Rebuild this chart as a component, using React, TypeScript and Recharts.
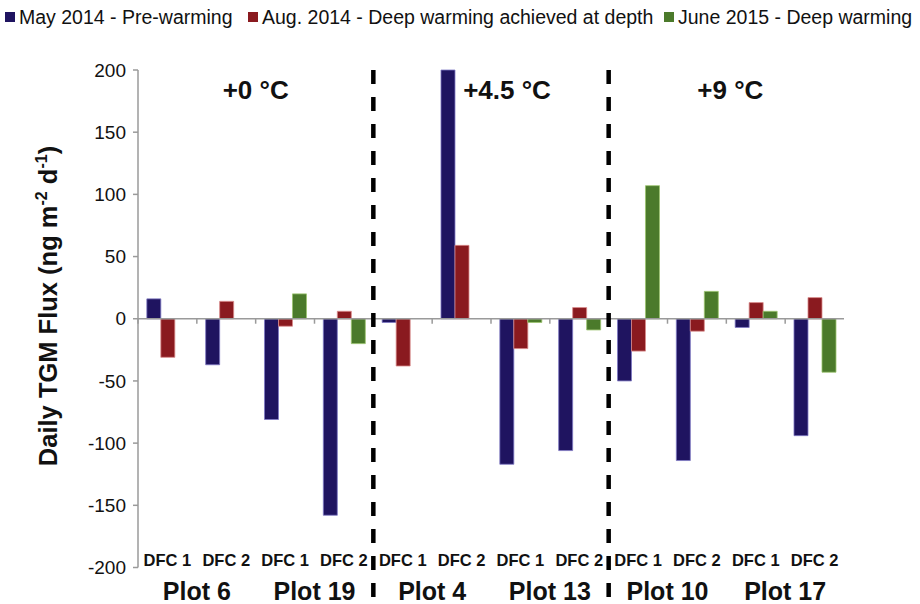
import React from 'react';
import { BarChart, Bar, XAxis, YAxis, ReferenceLine, Legend, Label } from 'recharts';

// Plots and the two dynamic flux chambers in each
const plots = ['Plot 6', 'Plot 19', 'Plot 4', 'Plot 13', 'Plot 10', 'Plot 17'];
const chambers = ['DFC 1', 'DFC 2'];
// Warming treatment shared by each pair of plots
const treatments = ['+0 °C', '+4.5 °C', '+9 °C'];

// Daily TGM flux (ng m-2 d-1), one value per chamber in plot order
const may2014 = [16, -37, -81, -158, -3, 200, -117, -106, -50, -114, -7, -94];
const aug2014 = [-31, 14, -6, 6, -38, 59, -24, 9, -26, -10, 13, 17];
const june2015 = [null, null, 20, -20, null, null, -3, -9, 107, 22, 6, -43];

const seriesNames = [
  'May 2014 - Pre-warming',
  'Aug. 2014 - Deep warming achieved at depth',
  'June 2015 - Deep warming',
];

const FONT = '"Liberation Sans", Arial, Helvetica, sans-serif';
const COLORS = ['#1f1460', '#8a1a1f', '#4b7a2b'];
const EDGES = ['#7f79c4', '#d98a8a', '#9cc46e'];
const LEGEND_LEFT = [5, 248, 664];
const TREATMENT_DX = [0, 16, 4];

const rows = plots.flatMap((plot, p) =>
  chambers.map((chamber, c) => {
    const i = p * 2 + c;
    return {
      key: `${plot} ${chamber}`,
      plot,
      chamber,
      treatment: treatments[Math.floor(p / 2)],
      may: may2014[i],
      aug: aug2014[i],
      june: june2015[i],
    };
  })
);

const DfcTick = (props: any) => {
  const { x, y, payload } = props;
  const row = rows.find((r) => r.key === payload.value);
  return (
    <text x={x} y={y - 1.5} textAnchor="middle" fontFamily={FONT} fontSize={16.5} fontWeight="bold" fill="#111">
      {row ? row.chamber : ''}
    </text>
  );
};

const PlotTick = (props: any) => {
  const { x, y, payload } = props;
  return (
    <text x={x} y={y + 22.5} textAnchor="middle" fontFamily={FONT} fontSize={25} fontWeight="bold" fill="#111">
      {payload.value}
    </text>
  );
};

const TreatmentTick = (props: any) => {
  const { x, y, payload, index } = props;
  const i = treatments.indexOf(payload.value);
  return (
    <text
      x={x + (TREATMENT_DX[i >= 0 ? i : index] || 0)}
      y={y + 29.3}
      textAnchor="middle"
      fontFamily={FONT}
      fontSize={26}
      fontWeight="bold"
      fill="#111"
    >
      {payload.value}
    </text>
  );
};

const YTitle = () => (
  <text
    transform="translate(57,306) rotate(-90)"
    textAnchor="middle"
    fontFamily={FONT}
    fontSize={25.5}
    fontWeight="bold"
    fill="#111"
  >
    Daily TGM Flux (ng m
    <tspan dy={-10} fontSize={16}>-2</tspan>
    <tspan dy={10}> d</tspan>
    <tspan dy={-10} fontSize={16}>-1</tspan>
    <tspan dy={10}>)</tspan>
  </text>
);

const LegendRow = () => (
  <div style={{ position: 'relative', width: 920, height: 30, fontFamily: FONT, fontSize: 19.5, color: '#111' }}>
    {seriesNames.map((name, i) => (
      <div
        key={name}
        style={{
          position: 'absolute',
          left: LEGEND_LEFT[i],
          top: 6,
          display: 'flex',
          alignItems: 'center',
          whiteSpace: 'nowrap',
          lineHeight: '22px',
        }}
      >
        <span style={{ display: 'inline-block', width: 10, height: 10, background: COLORS[i], marginRight: 4 }} />
        <span>{name}</span>
      </div>
    ))}
  </div>
);

export default function App() {
  const lastKey = rows[rows.length - 1].key;
  return (
    <div style={{ position: 'absolute', left: 0, top: 0, width: 920, height: 604, background: '#fff' }}>
      <BarChart
        width={920}
        height={604}
        data={rows}
        margin={{ top: 39, right: 76, bottom: 0, left: 0 }}
        barCategoryGap="15%"
        barGap={0}
      >
        <Legend
          verticalAlign="top"
          align="left"
          height={30}
          wrapperStyle={{ top: 0, left: 0, width: 920 }}
          content={LegendRow}
        />
        <XAxis
          xAxisId="dfc"
          dataKey="key"
          type="category"
          height={10}
          interval={0}
          axisLine={false}
          tickLine={false}
          tickSize={0}
          tickMargin={0}
          tick={DfcTick}
        />
        <XAxis
          xAxisId="plot"
          dataKey="plot"
          type="category"
          allowDuplicatedCategory={false}
          height={26.5}
          interval={0}
          axisLine={false}
          tickLine={false}
          tickSize={0}
          tickMargin={0}
          tick={PlotTick}
        />
        <XAxis
          xAxisId="treatment"
          dataKey="treatment"
          type="category"
          orientation="top"
          allowDuplicatedCategory={false}
          height={1}
          interval={0}
          axisLine={false}
          tickLine={false}
          tickSize={0}
          tickMargin={0}
          tick={TreatmentTick}
        />
        <YAxis
          domain={[-200, 200]}
          ticks={[-200, -150, -100, -50, 0, 50, 100, 150, 200]}
          interval={0}
          width={138}
          axisLine={{ stroke: '#9a9a9a', strokeWidth: 1.5 }}
          tickLine={{ stroke: '#9a9a9a', strokeWidth: 1.5 }}
          tickSize={5}
          tickMargin={7}
          tick={{ fontSize: 19, fill: '#111', fontFamily: FONT }}
        >
          <Label content={YTitle} />
        </YAxis>
        <Bar xAxisId="dfc" dataKey="may" name={seriesNames[0]} fill={COLORS[0]} stroke={EDGES[0]} strokeWidth={0.8} isAnimationActive={false} />
        <Bar xAxisId="dfc" dataKey="aug" name={seriesNames[1]} fill={COLORS[1]} stroke={EDGES[1]} strokeWidth={0.8} isAnimationActive={false} />
        <Bar xAxisId="dfc" dataKey="june" name={seriesNames[2]} fill={COLORS[2]} stroke={EDGES[2]} strokeWidth={0.8} isAnimationActive={false} />
        <ReferenceLine xAxisId="dfc" y={0} stroke="#9a9a9a" strokeWidth={1.5} />
        {rows.map((r) => (
          <ReferenceLine
            key={`tick-${r.key}`}
            xAxisId="dfc"
            position="start"
            segment={[{ x: r.key, y: 0 }, { x: r.key, y: -4 }]}
            stroke="#9a9a9a"
            strokeWidth={1.5}
          />
        ))}
        <ReferenceLine
          xAxisId="dfc"
          position="end"
          segment={[{ x: lastKey, y: 0 }, { x: lastKey, y: -4 }]}
          stroke="#9a9a9a"
          strokeWidth={1.5}
        />
        {[rows[4].key, rows[8].key].map((k) => (
          <ReferenceLine
            key={`sep-${k}`}
            xAxisId="dfc"
            position="start"
            ifOverflow="visible"
            segment={[{ x: k, y: 200 }, { x: k, y: -224 }]}
            stroke="#000"
            strokeWidth={4.5}
            strokeDasharray="14 13"
          />
        ))}
      </BarChart>
    </div>
  );
}
